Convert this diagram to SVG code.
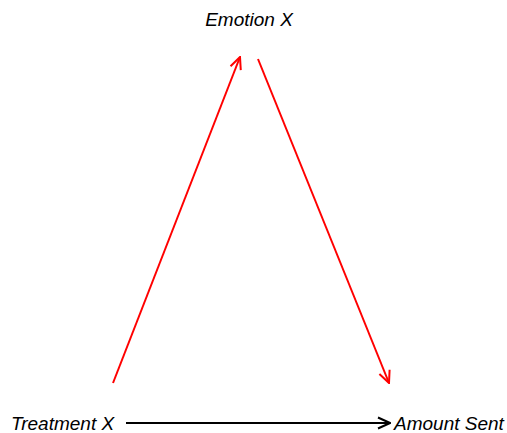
<svg xmlns="http://www.w3.org/2000/svg" width="507" height="433" viewBox="0 0 507 433">
<style>
text{font-family:"Liberation Sans",Arial,sans-serif;font-style:italic;font-size:19px;fill:#000}
.red{stroke:#ff0000;stroke-width:2;fill:none}
.blk{stroke:#000;stroke-width:2;fill:none}
</style>
<defs>
<marker id="ar" viewBox="0 0 14 14" refX="13" refY="7" markerWidth="14" markerHeight="14" markerUnits="userSpaceOnUse" orient="auto">
<path d="M1,1.5 L13,7 L1,12.5" stroke="#ff0000" stroke-width="2" fill="none"/>
</marker>
<marker id="ab" viewBox="0 0 14 14" refX="13" refY="7" markerWidth="14" markerHeight="14" markerUnits="userSpaceOnUse" orient="auto">
<path d="M1,1.5 L13,7 L1,12.5" stroke="#000" stroke-width="2" fill="none"/>
</marker>
</defs>
<g id="connectors">
<line class="red" x1="113" y1="383" x2="240" y2="57" marker-end="url(#ar)"/>
<line class="red" x1="258" y1="59" x2="389" y2="383" marker-end="url(#ar)"/>
<line class="blk" x1="126" y1="423" x2="390" y2="423" marker-end="url(#ab)"/>
</g>
<g id="emotion"><text x="249" y="26" text-anchor="middle">Emotion X</text></g>
<g id="treatment"><text x="11" y="430">Treatment X</text></g>
<g id="amount"><text x="394" y="430">Amount Sent</text></g>
</svg>
